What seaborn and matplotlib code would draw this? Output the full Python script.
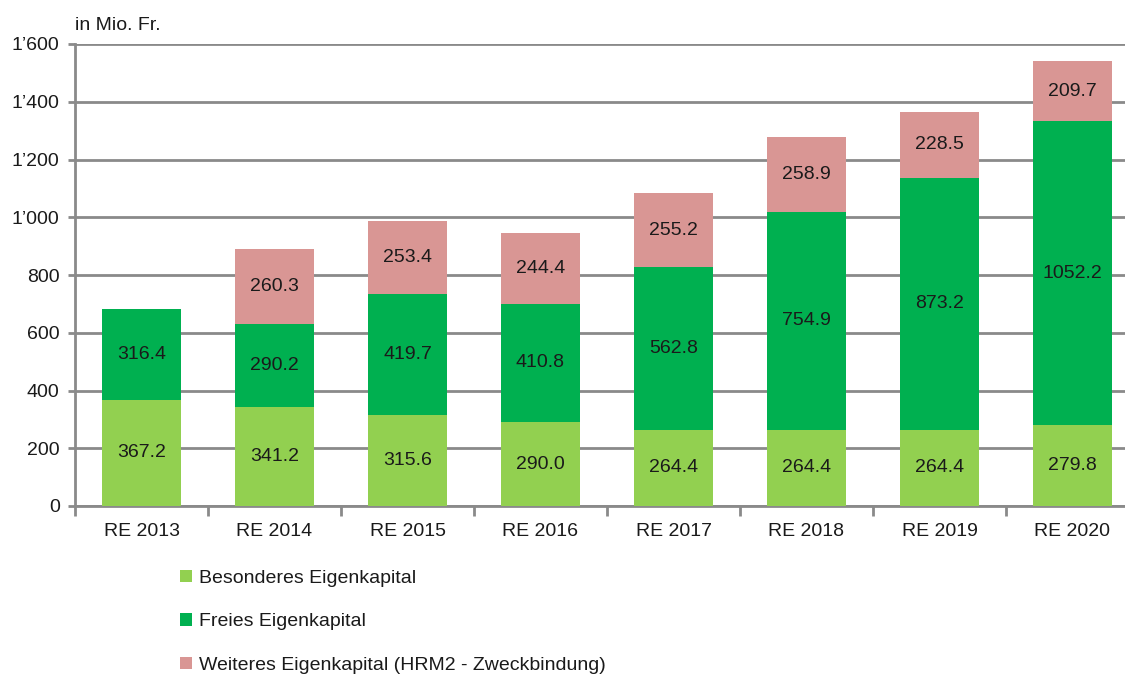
import matplotlib
matplotlib.use("Agg")
import matplotlib.pyplot as plt
import matplotlib.ticker as mticker
import numpy as np
import pandas as pd
import seaborn as sns
from matplotlib.patches import Patch

years = ["RE 2013", "RE 2014", "RE 2015", "RE 2016", "RE 2017", "RE 2018", "RE 2019", "RE 2020"]
besonderes = [367.2, 341.2, 315.6, 290.0, 264.4, 264.4, 264.4, 279.8]
freies = [316.4, 290.2, 419.7, 410.8, 562.8, 754.9, 873.2, 1052.2]
weiteres = [0.0, 260.3, 253.4, 244.4, 255.2, 258.9, 228.5, 209.7]

series_names = [
    "Besonderes Eigenkapital",
    "Freies Eigenkapital",
    "Weiteres Eigenkapital (HRM2 - Zweckbindung)",
]
colors = ["#92D050", "#00B050", "#D99694"]

sns.set_theme(style="white")
plt.rcParams["font.family"] = ["Liberation Sans", "DejaVu Sans"]

df = pd.DataFrame({"Jahr": years, series_names[0]: besonderes,
                   series_names[1]: freies, series_names[2]: weiteres})

fig = plt.figure(figsize=(11.25, 6.75), dpi=100)
ax = fig.add_axes([75 / 1125, 1 - 506 / 675, 1064 / 1125, 462 / 675])

# stacked bars: each level drawn as the cumulative total, taller levels behind
bottoms = np.zeros(len(years))
for name, color in zip(series_names, colors):
    vals = df[name].to_numpy()
    sns.barplot(x=df["Jahr"], y=bottoms + vals, color=color, width=0.59,
                saturation=1, ax=ax)
    bottoms = bottoms + vals

n = len(years)
for level in range(3):
    for p in ax.patches[level * n:(level + 1) * n]:
        p.set_zorder(3 - level)
        p.set_linewidth(0)

bottoms = np.zeros(len(years))
for name in series_names:
    vals = df[name].to_numpy()
    for i, v in enumerate(vals):
        if v > 0:
            ax.text(i, bottoms[i] + v / 2, f"{v:.1f}", ha="center", va="center",
                    fontsize=14, color="#1a1a1a", zorder=10)
    bottoms = bottoms + vals

ax.set_ylim(0, 1600)
ax.set_xlim(-0.5, len(years) - 0.5)
ax.set_yticks(np.arange(0, 1601, 200))
ax.yaxis.set_major_formatter(mticker.FuncFormatter(
    lambda v, _: f"{int(v):,}".replace(",", "\u2019")))
ax.yaxis.grid(True, color="#8a8a8a", linewidth=2, zorder=0)
ax.set_axisbelow(True)
ax.set_xlabel("")
ax.set_ylabel("")

for s in ["top", "right"]:
    ax.spines[s].set_visible(False)
for s in ["left", "bottom"]:
    ax.spines[s].set_color("#8a8a8a")
    ax.spines[s].set_linewidth(2)

ax.tick_params(axis="y", length=5, width=2, color="#8a8a8a", labelsize=14,
               labelcolor="#1a1a1a", pad=6, left=True)
ax.tick_params(axis="x", length=0, labelsize=14, labelcolor="#1a1a1a", pad=12)
ax.set_xticks(np.arange(-0.5, len(years)), minor=True)
ax.tick_params(axis="x", which="minor", length=7, width=2, color="#8a8a8a", bottom=True)

fig.text(75 / 1125, 1 - 25 / 675, "in Mio. Fr.", fontsize=14, color="#1a1a1a",
         ha="left", va="center")

handles = [Patch(facecolor=c, edgecolor="none") for c in colors]
fig.legend(handles, series_names, loc="upper left",
           bbox_to_anchor=(180 / 1125, 1 - 570 / 675), frameon=False,
           fontsize=14, handlelength=0.6, handleheight=0.6, handletextpad=0.4,
           labelspacing=1.35, labelcolor="#1a1a1a", borderaxespad=0, borderpad=0)

fig.savefig("out.png", dpi=100)
